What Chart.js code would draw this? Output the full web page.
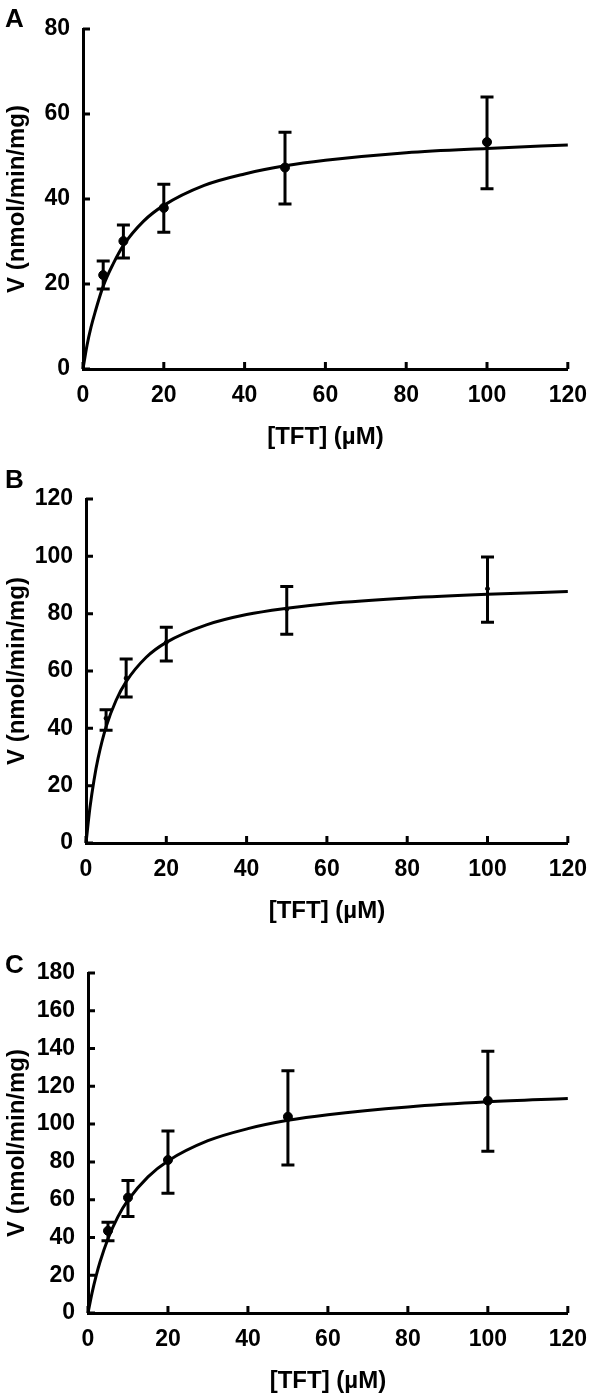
<!DOCTYPE html>
<html>
<head>
<meta charset="utf-8">
<script src="https://cdn.jsdelivr.net/npm/chart.js@4.4.1/dist/chart.umd.min.js"></script>
<style>
  html, body { margin: 0; padding: 0; background: #fff; }
  #wrap { position: relative; width: 600px; height: 1396px; }
  #wrap canvas { position: absolute; left: 0; }
  .tag {
    position: absolute; left: 5px;
    font: bold 26px/26px "Liberation Sans", Arial, sans-serif;
    color: #000;
  }
</style>
</head>
<body>
<div id="wrap">
  <canvas id="chartA" width="600" height="465" style="top:0px"></canvas>
  <canvas id="chartB" width="600" height="465" style="top:465px"></canvas>
  <canvas id="chartC" width="600" height="466" style="top:930px"></canvas>
  <div class="tag" style="top:5px">A</div>
  <div class="tag" style="top:466px">B</div>
  <div class="tag" style="top:951px">C</div>
</div>
<script>
// ---------- 数据 ----------
const xConc  = [5, 10, 20, 50, 100];           // [TFT] (µM)
const xTicks = [0, 20, 40, 60, 80, 100, 120];

// A
const vMeanA = [22.1, 30.1, 37.9, 47.4, 53.4];
const vLowA  = [18.8, 26.1, 32.2, 38.8, 42.4];
const vHighA = [25.4, 33.9, 43.5, 55.7, 64.0];
// B
const vMeanB = [43.5, 57.5, 70.0, 81.6, 88.7];
const vLowB  = [39.3, 50.9, 63.5, 72.8, 77.0];
const vHighB = [46.5, 64.2, 75.3, 89.5, 99.8];
// C
const vMeanC = [43.5, 61.1, 81.0, 103.9, 112.4];
const vLowC  = [38.2, 51.1, 63.4, 78.4, 85.6];
const vHighC = [48.1, 70.1, 96.3, 128.2, 138.6];

// 拟合曲线（沿曲线读取的点）
const fitX = [0, 1, 2, 3, 5, 7.5, 10, 15, 20, 30, 40, 50, 60, 80, 100, 120];
const fitA = [0, 5.6, 9.9, 13.4, 19.5, 24.8, 29.1, 34.8, 38.5, 43.2, 45.9, 47.8, 49.1, 50.9, 51.9, 52.7];
const fitB = [0, 12.5, 22.0, 29.5, 40.5, 49.8, 56.3, 64.8, 70.0, 76.1, 79.7, 81.9, 83.5, 85.5, 86.8, 87.7];
const fitC = [0, 10.5, 19.4, 27.0, 39.3, 51.0, 59.7, 72.1, 80.5, 91.2, 97.6, 102.0, 105.0, 109.1, 111.8, 113.6];

const yMaxA = 80, yMaxB = 120, yMaxC = 180;

Chart.defaults.font.family = '"Liberation Sans", Arial, sans-serif';
Chart.defaults.color = '#000';

// ---------- 误差线 + 内向刻度 ----------
const errorBarPlugin = {
  id: 'errorBars',
  afterDatasetsDraw(chart, args, opts) {
    const ctx = chart.ctx, xs = chart.scales.x, ys = chart.scales.y;
    ctx.save();
    ctx.strokeStyle = '#000';
    ctx.lineWidth = 3;
    opts.x.forEach(function (xv, i) {
      const px = xs.getPixelForValue(xv);
      const top = ys.getPixelForValue(opts.high[i]);
      const bot = ys.getPixelForValue(opts.low[i]);
      ctx.beginPath();
      ctx.moveTo(px, top); ctx.lineTo(px, bot);
      ctx.moveTo(px - 6.5, top); ctx.lineTo(px + 6.5, top);
      ctx.moveTo(px - 6.5, bot); ctx.lineTo(px + 6.5, bot);
      ctx.stroke();
    });
    ctx.restore();
  }
};

const innerTicksPlugin = {
  id: 'innerTicks',
  afterDraw(chart) {
    const ctx = chart.ctx, xs = chart.scales.x, ys = chart.scales.y;
    const area = chart.chartArea;
    ctx.save();
    ctx.strokeStyle = '#000';
    ctx.lineWidth = 3;
    ctx.beginPath();
    xs.ticks.forEach(function (t) {
      const px = xs.getPixelForValue(t.value);
      ctx.moveTo(px, area.bottom); ctx.lineTo(px, area.bottom - 7);
    });
    ys.ticks.forEach(function (t) {
      const py = ys.getPixelForValue(t.value);
      ctx.moveTo(area.left, py); ctx.lineTo(area.left + 7, py);
    });
    ctx.stroke();
    ctx.restore();
  }
};

// ---------- 面板 ----------
function makePanel(id, L, yMax, mean, low, high, fit, dotRadius) {
  const xHeight = L.height - (L.areaBottom - L.top);
  const titleCenter = L.areaBottom - L.top + 68;           // 画布内坐标
  const titleFont = { size: 24, weight: 'bold' };
  const tickFont = { size: 23, weight: 'bold' };
  const titlePadBottom = Math.max(0, L.height - titleCenter - titleFont.size * 1.2 / 2);

  return new Chart(document.getElementById(id), {
    type: 'scatter',
    data: {
      datasets: [
        {
          data: fitX.map(function (x, i) { return { x: x, y: fit[i] }; }),
          showLine: true,
          borderColor: '#000',
          borderWidth: 3,
          pointRadius: 0,
          cubicInterpolationMode: 'monotone',
          clip: false,
        },
        {
          data: xConc.map(function (x, i) { return { x: x, y: mean[i] }; }),
          backgroundColor: '#000',
          borderColor: '#000',
          pointRadius: dotRadius,
          clip: false,
        },
      ],
    },
    options: {
      responsive: false,
      animation: false,
      events: [],
      layout: { padding: { top: L.areaTop - L.top, right: 600 - L.right, left: 0, bottom: 0 } },
      plugins: {
        legend: { display: false },
        tooltip: { enabled: false },
        errorBars: { x: xConc, low: low, high: high },
      },
      scales: {
        x: {
          type: 'linear', min: 0, max: 120,
          afterFit: function (s) { s.height = xHeight; },
          afterBuildTicks: function (s) { s.ticks = xTicks.map(function (v) { return { value: v }; }); },
          border: { color: '#000', width: 3 },
          grid: { drawOnChartArea: false, drawTicks: false },
          ticks: { color: '#000', font: tickFont, padding: 13, maxRotation: 0 },
          title: { display: true, text: '[TFT] (µM)', color: '#000', font: titleFont,
                   padding: { top: 0, bottom: titlePadBottom } },
        },
        y: {
          type: 'linear', min: 0, max: yMax,
          afterFit: function (s) { s.width = L.left; },
          border: { color: '#000', width: 3 },
          grid: { drawOnChartArea: false, drawTicks: false },
          ticks: { stepSize: 20, color: '#000', font: tickFont, padding: 13 },
          title: { display: true, text: 'V (nmol/min/mg)', color: '#000', font: titleFont,
                   padding: { top: 3, bottom: 0 } },
        },
      },
    },
    plugins: [errorBarPlugin, innerTicksPlugin],
  });
}

makePanel('chartA', { top: 0,   height: 465, left: 83, right: 570, areaTop: 29,  areaBottom: 369 },
          yMaxA, vMeanA, vLowA, vHighA, fitA, 4.5);
makePanel('chartB', { top: 465, height: 465, left: 86, right: 578, areaTop: 499, areaBottom: 843 },
          yMaxB, vMeanB, vLowB, vHighB, fitB, 2);
makePanel('chartC', { top: 930, height: 466, left: 88, right: 576, areaTop: 973, areaBottom: 1313 },
          yMaxC, vMeanC, vLowC, vHighC, fitC, 4.5);
</script>
</body>
</html>
